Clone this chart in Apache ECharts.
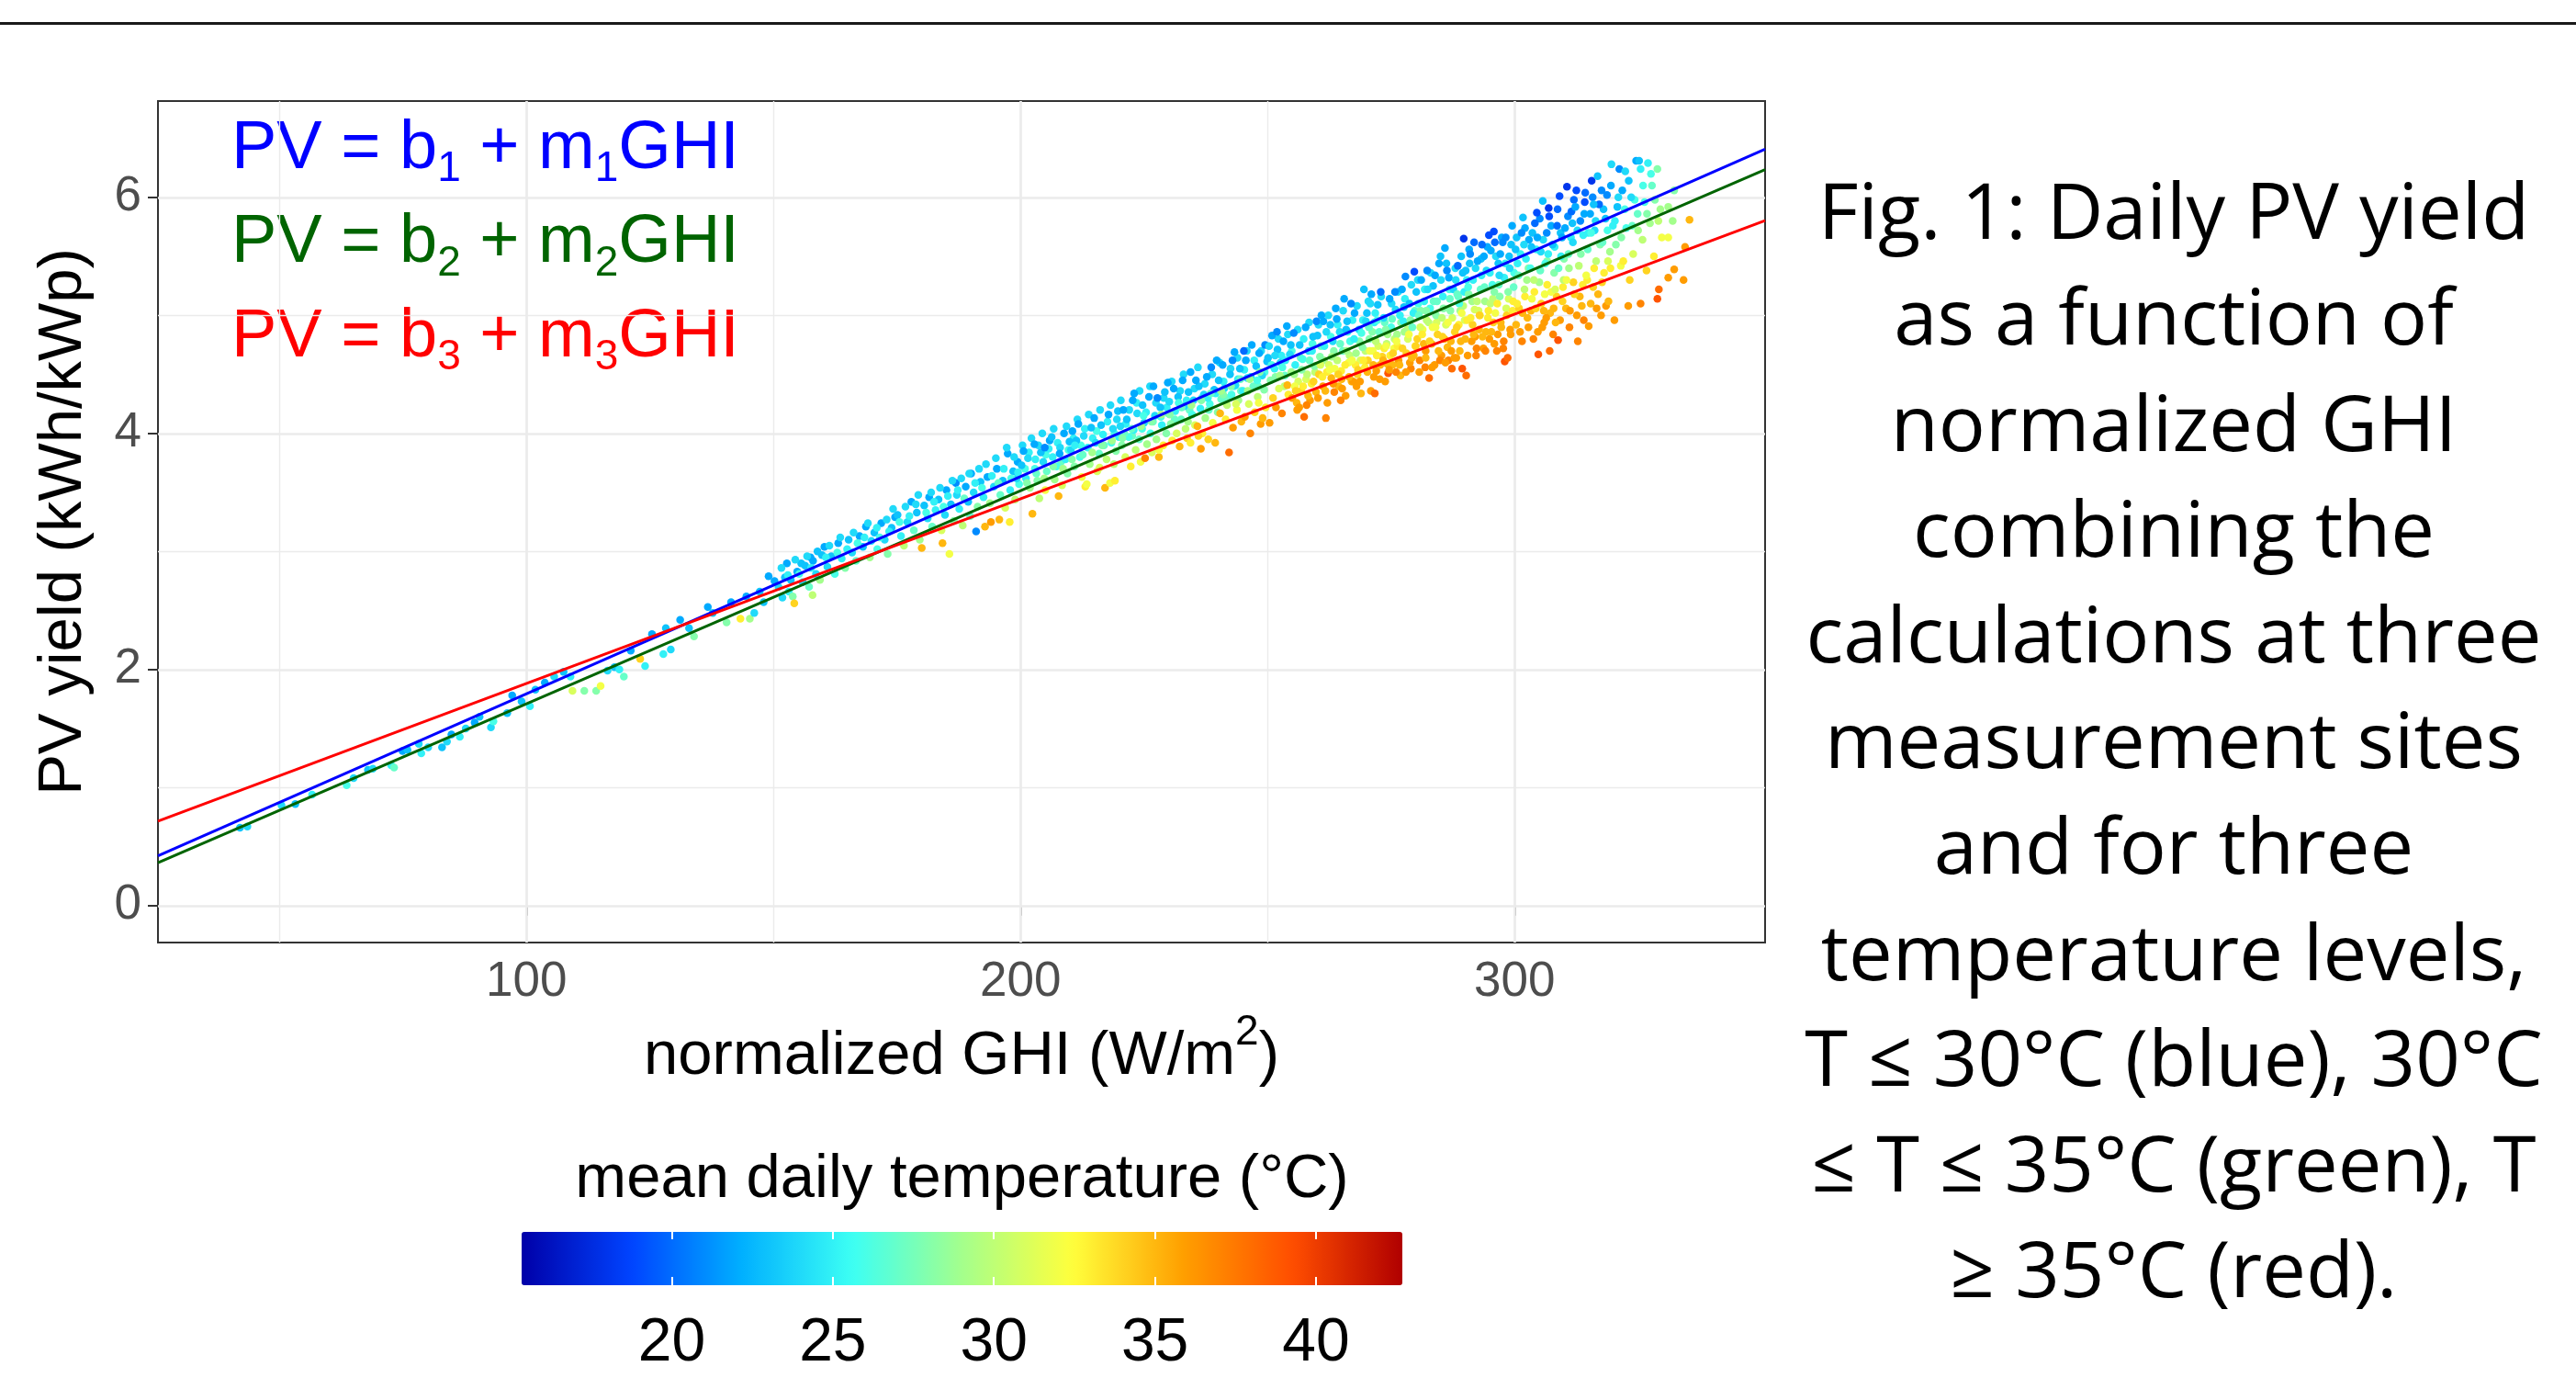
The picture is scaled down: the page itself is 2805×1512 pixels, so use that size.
<!DOCTYPE html>
<html>
<head>
<meta charset="utf-8">
<script src="https://cdn.jsdelivr.net/npm/echarts@6.0.0/dist/echarts.min.js"></script>
<style>
  html, body { margin: 0; padding: 0; background: #fff; }
  #chart { width: 2805px; height: 1512px; }
</style>
</head>
<body>
<div id="chart"></div>
<script>
// daily points: [normalized GHI, PV yield, mean daily temperature]
const ptsLowGhi = [
  [42.0,0.66,23],[43.5,0.67,24],[50.4,0.85,24],[53.2,0.86,23],[56.6,0.94,25],[63.6,1.02,26],[65.0,1.08,24],
  [67.9,1.15,23],[68.9,1.16,24],[72.6,1.19,25],[73.2,1.17,27],[74.9,1.31,22],[75.9,1.32,23],[78.2,1.37,24],
  [78.7,1.29,25],[80.1,1.34,24],[82.9,1.34,23],[83.9,1.39,24],[84.8,1.45,22],[86.5,1.43,25],[87.7,1.50,24],
  [89.5,1.55,22],[90.5,1.60,23],[92.8,1.51,24],[93.3,1.56,26],[96.1,1.63,23],[97.1,1.78,22],[99.0,1.73,23],
  [100.7,1.69,25],[101.8,1.83,23],[103.7,1.89,22],[105.6,1.94,24],[107.5,1.98,23],[108.9,1.94,25],[109.3,1.82,31],
  [111.7,1.82,28],[114.1,1.82,28],[115.0,1.86,32],[116.4,1.99,24],[117.8,2.02,23],[118.8,2.00,25],[119.7,1.94,27],
  [121.1,2.16,22],[123.0,2.09,34],[124.0,2.03,25],[125.4,2.30,22],[127.7,2.13,25],[128.2,2.35,23],[129.2,2.17,24],
  [131.1,2.42,22],[132.9,2.35,23],[133.9,2.28,28],[136.7,2.53,22],[137.7,2.48,23],[140.5,2.40,28],[141.4,2.57,22],
  [143.3,2.43,33],[144.5,2.62,22],[145.2,2.43,29],[146.1,2.48,24],[147.2,2.66,23],[148.0,2.57,23],[149.0,2.79,22]
];
const ptsMidGhi = [
  [150.2,2.75,22],[151.0,2.70,24],[151.8,2.61,24],[152.3,2.78,23],[152.7,2.90,22],[153.1,2.66,25],[153.5,2.76,23],
  [153.9,2.62,28],[154.2,2.56,34],[154.8,2.83,22],[155.6,2.90,23],[155.9,2.74,24],[156.4,2.88,23],[157.2,2.70,27],
  [157.5,2.95,22],[157.9,2.63,30],[158.0,2.92,22],[158.6,2.81,24],[159.4,2.76,29],[159.8,2.97,23],
  [160.3,3.04,22],[160.9,2.87,24],[161.7,2.96,23],[162.4,2.81,26],[163.1,3.07,22],[163.8,2.94,25],[164.5,2.86,28],
  [165.2,3.10,23],[165.9,2.99,24],[166.7,2.92,27],[167.4,3.13,22],[168.1,3.04,23],[168.7,3.21,22],[169.5,2.95,29],
  [169.8,3.09,24],
  [170.4,3.16,23],[171.0,3.02,26],[171.8,3.24,22],[172.5,3.10,24],[173.1,2.98,28],[173.9,3.20,23],[174.6,3.29,22],
  [175.1,3.31,23],[175.8,3.13,25],[176.4,3.05,30],[177.1,3.25,24],[177.9,3.42,22],[178.4,3.18,27],[179.0,3.33,23],
  [179.6,3.10,29],[180.0,3.03,35],
  [180.5,3.39,23],[181.2,3.28,24],[181.5,3.46,22],[182.1,3.21,27],[182.8,3.35,25],[183.4,3.44,23],[184.0,3.18,31],
  [184.2,3.07,35],[184.7,3.31,24],[185.0,3.52,22],[185.6,2.98,32],[185.9,3.40,23],[186.5,3.26,28],[187.1,3.48,24],
  [187.6,3.36,25],[188.3,3.22,30],[188.9,3.55,22],[189.4,3.42,23],[189.8,3.30,27],[186.9,3.58,21],
  [190.0,3.66,22],[190.5,3.50,24],[191.0,3.17,21],[191.3,3.38,28],[191.9,3.59,23],[192.5,3.46,25],[192.8,3.21,35],
  [193.3,3.63,22],[193.8,3.41,29],[194.0,3.25,36],[194.6,3.55,24],[195.2,3.70,22],[195.7,3.27,35],[195.9,3.48,27],
  [196.4,3.60,23],[196.9,3.37,31],[197.4,3.83,22],[197.8,3.25,33],[197.9,3.52,25],[198.5,3.68,23],[198.9,3.44,30],
  [199.4,3.76,22],[199.7,3.57,26],[199.2,3.62,24]
];
const ptsGhi200to250 = [
  [200.2,3.73,23],[200.6,3.85,22],[201.1,3.62,25],[201.5,3.79,24],[201.9,3.54,29],[202.4,3.32,35],[202.8,3.91,22],
  [202.9,3.70,26],[203.4,3.60,28],[203.8,3.45,30],[204.1,3.84,23],[204.6,3.76,24],[205.0,3.52,32],[205.3,3.68,27],
  [205.9,3.94,22],[206.3,3.97,23],[206.5,3.80,25],[206.9,3.61,29],[207.3,3.72,26],[207.7,3.47,35],[208.0,3.88,24],
  [208.4,3.56,31],[208.8,4.00,22],[209.1,3.78,25],[209.5,3.66,28],[209.9,3.93,23],[204.9,3.88,21],[207.9,3.83,22],
  [210.2,3.86,24],[210.5,4.02,22],[210.9,3.72,28],[211.3,3.94,23],[211.7,4.08,22],[212.0,3.80,26],[212.4,3.63,32],
  [212.8,3.98,24],[213.1,3.55,33],[213.4,3.57,32],[213.6,3.88,25],[214.0,3.74,29],[214.3,4.05,23],[214.9,4.13,22],
  [215.2,3.92,24],[215.5,3.68,31],[215.9,3.83,27],[216.3,4.07,23],[216.7,3.99,25],[217.1,3.54,35],[217.4,3.78,30],
  [217.8,4.16,22],[218.1,3.58,32],[218.4,3.92,26],[218.7,4.04,24],[219.1,3.60,33],[219.3,3.85,28],[219.7,4.19,23],
  [219.9,3.97,25],[211.0,3.90,25],[216.0,3.71,31],[218.9,3.74,30],
  [220.2,4.06,24],[220.5,3.90,28],[220.8,4.20,22],[221.2,3.80,31],[221.5,4.12,23],[221.9,3.97,26],[222.3,3.72,33],
  [222.7,4.28,22],[222.9,4.03,25],[223.3,3.86,30],[223.6,4.17,24],[224.0,3.95,27],[224.3,3.76,32],[224.7,4.24,23],
  [225.0,4.09,24],[225.2,3.79,37],[225.6,3.91,29],[226.0,4.31,22],[226.3,4.00,26],[226.6,3.84,31],[226.9,4.40,22],
  [227.2,4.15,24],[227.5,3.95,29],[228.0,3.80,35],[228.0,3.86,32],[228.3,4.22,23],[228.6,4.07,25],[228.9,3.90,33],
  [229.2,4.35,23],[229.5,4.00,28],[229.8,4.43,22],[229.9,4.17,25],[221.0,4.00,27],[224.9,4.15,26],[227.7,4.30,21],
  [223.0,4.34,22],
  [230.1,4.27,24],[230.4,4.08,28],[230.7,3.94,33],[231.0,4.38,22],[231.3,4.19,25],[231.6,4.00,31],[231.9,4.31,23],
  [232.2,3.89,35],[232.5,4.12,27],[232.8,4.45,22],[233.1,4.23,24],[233.4,4.04,30],[233.7,3.96,34],[234.0,4.35,23],
  [234.4,4.52,22],[234.4,3.92,33],[234.7,4.16,26],[235.0,4.28,24],[235.3,4.07,31],[235.8,4.06,35],[236.1,4.40,23],
  [236.4,4.21,25],[236.5,3.87,36],[236.8,4.00,33],[237.1,4.33,24],[237.4,4.13,29],[237.7,4.48,22],[238.0,3.95,34],
  [238.3,4.25,26],[238.6,4.56,21],[238.9,4.09,32],[239.2,4.37,23],[239.4,3.92,35],[239.7,4.62,22],[239.9,4.18,28],
  [232.0,4.26,26],[235.5,4.45,22],[237.9,4.30,25],[233.9,4.10,29],[236.0,3.98,34],
  [240.1,4.45,23],[240.4,4.17,35],[240.6,4.29,27],[240.9,4.58,22],[241.2,4.38,24],[241.5,4.12,33],[241.8,4.24,30],
  [242.2,3.84,38],[242.4,4.50,23],[242.7,4.33,26],[243.0,4.05,36],[243.3,4.69,22],[243.5,4.41,24],[243.8,4.20,32],
  [244.1,4.28,29],[244.4,4.55,23],[244.7,4.10,35],[245.0,4.36,25],[245.4,4.14,36],[245.6,4.62,22],[245.9,4.47,24],
  [246.2,4.25,31],[246.5,4.00,37],[246.8,4.75,22],[247.1,4.40,27],[247.4,4.18,34],[247.7,4.57,23],[248.0,4.31,30],
  [248.3,4.68,22],[248.6,4.08,36],[248.9,4.49,24],[249.0,4.13,35],[249.3,4.37,28],[249.6,4.22,33],[249.9,4.61,23],
  [241.0,4.33,28],[242.9,4.62,21],[244.0,4.46,25],[246.0,4.36,29],[247.9,4.45,26],[249.5,4.75,21],[245.2,4.70,20],
  [243.6,4.25,31],[248.2,4.26,32]
];
const ptsGhi250to300 = [
  [250.1,4.64,23],[250.4,4.09,36],[250.6,4.45,28],[250.9,4.83,22],[251.1,4.30,34],[251.4,4.55,25],[251.7,4.22,36],
  [252.0,4.71,23],[252.3,4.38,31],[252.6,4.60,24],[252.9,4.17,37],[253.2,4.78,22],[253.5,4.49,27],[253.9,4.91,22],
  [254.0,4.41,35],[254.2,4.33,33],[254.5,4.67,24],[254.8,4.52,29],[255.0,4.30,36],[255.3,4.85,21],[255.6,4.58,25],
  [255.9,4.26,35],[256.2,4.44,31],[256.5,4.75,23],[256.8,4.36,34],[257.1,4.63,26],[257.4,4.14,38],[257.7,4.90,22],
  [258.0,4.50,30],[258.3,4.70,24],[258.6,4.28,36],[258.9,4.42,33],[259.2,4.82,23],[259.5,4.57,28],[259.8,4.35,35],
  [259.9,4.95,21],[251.5,4.66,24],[252.5,4.49,29],[253.6,4.62,25],[255.5,4.40,32],[256.9,4.54,28],[258.5,4.62,27],
  [251.9,4.86,21],[254.7,4.75,23],[257.9,4.24,37],[259.0,4.70,25],[256.0,4.20,36],[253.0,4.56,26],
  [260.1,4.83,23],[260.4,4.50,34],[260.6,4.65,28],[260.9,5.00,22],[261.2,4.40,36],[261.5,4.74,25],[261.8,4.13,37],
  [262.1,4.26,36],[262.4,4.58,31],[262.7,4.92,23],[262.9,4.47,35],[263.2,4.78,24],[263.5,4.35,37],[263.8,5.06,22],
  [264.1,4.62,30],[264.4,4.40,35],[264.6,4.86,24],[264.9,4.53,33],[265.2,4.70,27],[265.5,5.14,22],[265.8,4.32,36],
  [266.1,4.95,23],[266.4,4.60,32],[266.7,4.78,26],[267.0,4.44,35],[267.3,4.44,36],[267.6,5.02,22],[267.9,4.68,29],
  [268.2,4.50,34],[268.5,4.88,24],[268.9,4.34,35],[269.2,4.73,28],[269.5,5.22,23],[269.7,4.56,33],[269.9,4.95,24],
  [260.7,4.58,31],[261.9,4.86,24],[263.0,4.65,29],[264.0,4.97,22],[265.0,4.46,35],[266.0,4.70,29],[267.5,4.80,25],
  [268.8,4.62,31],[262.0,4.52,33],[264.8,4.28,37],[266.9,5.10,21],[268.0,4.40,36],[269.0,4.85,26],[261.3,4.95,22],
  [263.6,4.55,32],[265.9,4.88,23],[267.8,4.58,33],
  [270.1,5.02,23],[270.3,4.62,34],[270.6,4.80,28],[270.9,4.36,36],[271.0,5.18,22],[271.3,4.70,32],[271.6,4.94,25],
  [271.7,4.34,38],[272.0,4.53,36],[272.3,5.09,23],[272.6,4.86,27],[272.9,5.20,20],[273.2,4.65,34],[273.5,4.98,24],
  [273.8,4.44,36],[274.1,4.76,30],[274.4,4.51,39],[274.7,5.14,22],[275.0,4.90,26],[275.3,4.58,35],[275.6,4.72,32],
  [275.9,5.05,24],[276.2,4.84,29],[276.5,4.62,36],[276.9,4.49,35],[277.2,5.22,22],[277.5,4.95,25],[277.9,5.33,21],
  [278.1,4.68,34],[278.4,4.80,31],[278.7,5.10,23],[279.0,4.55,37],[279.3,4.90,27],[279.7,5.37,19],[279.9,4.74,33],
  [270.5,4.90,27],[271.9,4.78,30],[272.8,4.58,35],[273.9,4.88,28],[274.8,4.66,33],[275.8,5.20,21],[276.8,5.00,25],
  [277.7,4.86,29],[278.8,4.60,36],[279.5,5.02,25],[270.8,5.10,24],[272.2,4.96,26],[273.6,4.72,33],[275.2,4.97,27],
  [276.3,4.74,33],[277.6,5.07,23],[278.9,4.96,28],[271.5,4.48,36],[274.2,4.59,35],[276.0,4.52,37],[279.6,4.66,35],
  [280.1,5.20,23],[280.3,4.80,34],[280.6,5.00,27],[280.8,4.62,37],[281.1,5.30,22],[281.4,4.88,32],[281.7,5.12,25],
  [282.0,4.70,36],[282.3,5.38,21],[282.6,4.94,30],[282.7,4.47,38],[282.9,5.06,26],[283.2,4.76,35],[283.5,5.25,23],
  [283.8,4.58,36],[284.1,5.00,28],[284.4,4.84,34],[284.7,5.44,22],[285.0,5.50,23],[285.2,4.66,36],[285.5,5.16,25],
  [285.9,5.57,22],[286.1,4.92,31],[286.4,4.73,35],[286.7,5.32,22],[287.0,5.04,28],[287.3,4.55,38],[287.6,5.22,24],
  [287.9,4.86,34],[288.2,4.64,36],[288.5,5.42,20],[288.8,5.10,26],[289.1,4.78,35],[289.4,4.55,39],[289.7,5.65,18],
  [289.9,4.96,31],[280.5,5.10,26],[281.6,4.76,35],[282.4,5.22,24],[283.4,4.90,32],[284.3,5.12,27],[285.3,4.98,30],
  [286.3,5.38,21],[287.2,4.70,36],[288.1,5.30,24],[289.0,5.04,29],[280.9,4.90,31],[282.1,5.04,28],[283.9,5.34,22],
  [285.8,4.80,35],[286.9,5.14,27],[288.7,4.92,33],[289.5,5.36,23],[281.9,4.56,37],[284.9,4.62,37],[286.6,4.62,37],
  [288.4,5.18,27],[289.8,5.20,25],
  [290.1,5.38,23],[290.2,4.49,38],[290.4,4.96,33],[290.7,5.18,28],[291.0,5.52,21],[291.3,4.78,36],[291.6,5.30,25],
  [291.9,5.05,31],[292.2,4.66,37],[292.5,5.46,22],[292.8,4.88,35],[293.1,5.22,27],[293.4,5.60,20],[293.7,4.72,36],
  [294.0,5.12,29],[294.3,5.38,24],[294.6,4.98,33],[294.9,4.80,36],[295.2,5.55,22],[295.5,5.26,26],[295.8,5.71,19],
  [296.1,5.02,32],[296.4,4.70,37],[296.7,5.44,23],[297.0,5.16,28],[297.3,4.90,35],[297.6,5.62,21],[297.9,5.32,25],
  [298.0,4.61,39],[298.3,5.06,31],[298.6,4.64,38],[298.9,5.50,23],[299.2,4.84,36],[299.5,5.76,22],[299.8,5.24,27],
  [290.6,5.24,26],[291.5,4.92,34],[292.4,5.12,30],[293.3,5.34,25],[294.2,4.86,35],[295.1,5.10,30],[296.0,5.62,20],
  [296.9,5.34,24],[297.8,4.78,37],[298.7,5.20,28],[299.6,5.04,33],[290.9,5.44,23],[292.0,4.82,36],[293.8,5.50,22],
  [295.7,4.94,34],[297.1,5.52,22],[299.0,5.40,24],[291.8,5.62,20],[294.8,5.68,19],[296.6,4.84,36],[298.2,5.66,21],
  [293.0,5.00,32],[295.9,5.20,28]
];
const ptsHighGhi = [
  [300.2,5.56,23],[300.5,5.10,33],[300.8,5.34,27],[301.1,4.86,36],[301.4,5.70,21],[301.7,5.83,23],[302.0,5.22,30],
  [302.3,5.48,25],[302.6,4.98,35],[302.9,5.64,22],[303.2,5.40,26],[303.5,5.14,32],[303.8,4.80,37],[304.1,5.78,20],
  [304.5,5.87,19],[304.8,4.67,39],[305.0,5.28,29],[305.3,5.54,24],[305.7,5.97,23],[305.9,5.04,35],[306.2,5.44,26],
  [306.5,5.70,21],[306.9,5.91,18],[307.1,4.70,38],[307.4,5.20,32],[307.7,5.60,23],[308.0,5.36,28],[308.3,4.94,35],
  [308.6,5.76,20],[308.8,4.79,39],[309.1,6.01,19],[309.4,5.50,25],[309.7,5.12,34],[309.9,5.30,30],[300.6,5.44,25],
  [301.6,5.02,35],[302.5,5.30,29],[303.4,5.58,23],[304.3,5.06,34],[305.2,5.38,27],[306.1,5.18,32],[307.0,5.84,19],
  [307.9,5.06,35],[308.9,5.40,27],[309.6,5.66,22],[301.9,5.60,24],[303.9,5.30,30],[305.6,4.90,36],[306.8,5.52,25],
  [308.2,5.22,31],[304.6,5.66,22],[306.4,4.98,36],
  [310.2,5.74,22],[310.5,5.30,32],[310.6,6.09,18],[310.9,5.52,27],[311.2,5.04,36],[311.5,5.88,20],[311.8,5.62,24],
  [312.1,5.18,34],[312.5,6.06,19],[312.8,4.78,37],[313.0,5.42,30],[313.3,5.80,21],[313.6,5.08,35],[313.9,5.68,25],
  [314.2,5.96,19],[314.5,5.34,32],[314.8,5.56,27],[315.0,4.91,36],[315.3,5.86,22],[315.6,6.14,18],[315.9,5.24,34],
  [316.2,5.72,24],[316.5,5.46,30],[316.8,6.18,23],[317.1,5.94,20],[317.5,5.00,36],[317.8,5.62,27],[318.1,5.36,33],
  [318.4,5.82,23],[318.7,6.02,21],[319.0,5.12,35],[319.3,5.54,29],[319.6,6.28,24],[319.9,5.76,25],[311.0,5.40,29],
  [312.3,5.92,22],[313.8,5.26,33],[315.5,5.70,26],[316.6,5.06,36],[317.6,6.06,21],[318.9,5.46,31],[311.7,5.78,23],
  [314.3,6.04,20],[316.0,5.94,23],
  [320.2,4.96,36],[320.5,5.60,28],[320.8,5.92,23],[321.2,6.24,21],[321.5,5.42,32],[321.8,6.06,22],[322.4,6.22,24],
  [322.6,5.74,26],[323.0,5.08,36],[323.3,5.30,34],[323.6,6.00,24],[324.0,5.52,31],[324.6,6.31,22],[324.9,5.86,27],
  [325.2,6.31,23],[325.5,5.10,37],[325.5,6.24,25],[325.9,5.64,30],[326.3,5.96,26],[326.7,5.38,34],[327.0,6.29,25],
  [327.4,5.78,29],[327.8,6.10,27],[328.2,5.50,33],[328.9,5.14,39],[328.9,6.24,28],[329.2,5.22,38],[329.5,5.90,29],
  [329.8,5.66,32],[322.0,5.46,33],
  [331.1,5.92,29],[331.1,5.66,32],[331.1,5.32,36],[332.0,5.80,29],[332.3,6.06,28],[332.3,5.39,36],[334.2,5.30,36],
  [334.5,5.58,36],[335.4,5.81,35]
];
// extra points filling the dense parts of the cloud
const ptsDenseCool = [
  [151.6,2.86,24],[152.9,2.80,25],[154.4,2.93,24],[155.2,2.81,26],[156.8,2.96,24],[157.6,2.86,25],[158.9,3.00,23],
  [160.6,2.95,25],[161.3,3.05,24],[162.9,2.99,26],[163.5,3.12,24],[164.9,3.02,25],[166.2,3.16,24],[167.0,3.07,26],
  [168.4,3.12,25],[169.1,3.24,24],[170.9,3.20,25],[171.5,3.12,26],[172.9,3.27,24],[173.4,3.17,25],[174.2,3.36,24],
  [175.5,3.25,26],[176.7,3.38,24],[177.5,3.30,25],[178.8,3.40,24],[179.3,3.48,24],[180.9,3.33,26],[181.9,3.50,24],
  [182.5,3.42,25],[183.7,3.54,24],[184.4,3.38,26],[185.3,3.47,25],[186.2,3.60,24],[187.3,3.52,25],[188.0,3.62,24],
  [188.6,3.45,27],[189.6,3.66,24],[190.8,3.58,25],[191.6,3.70,24],[192.2,3.54,26],[193.0,3.74,24],[194.2,3.64,25],
  [195.0,3.79,24],[195.5,3.58,27],[196.6,3.70,25],[197.2,3.88,24],[198.1,3.62,26],[198.7,3.80,24],[199.5,3.67,25],
  [200.4,3.90,24],[200.9,3.70,26],[201.7,3.84,25],[202.2,3.96,24],[203.0,3.78,25],[203.6,3.90,24],[204.4,4.00,24],
  [205.1,3.82,26],[205.7,3.87,25],[206.7,4.04,24],[207.5,3.92,25],[208.2,3.76,27],[209.3,4.06,24],[209.7,3.86,26],
  [210.7,3.96,25],[211.5,4.12,24],[212.2,3.90,26],[213.0,4.04,25],[213.8,4.16,24],[214.6,3.96,25],[215.4,4.02,26],
  [216.1,4.20,24],[216.9,3.90,27],[217.6,4.10,25],[218.2,4.24,24],[219.0,4.00,26],[219.5,4.12,24],[220.3,4.28,24],
  [221.3,4.08,25],[222.0,4.20,24],[222.6,3.98,27],[223.5,4.26,25],[224.1,4.36,24],[224.6,4.04,26],[225.4,4.18,25],
  [226.2,4.40,24],[226.8,4.10,27],[227.4,4.26,24],[228.4,4.14,26],[229.0,4.30,24],[229.6,4.22,25],[230.6,4.44,24],
  [231.2,4.12,27],[232.3,4.36,24],[233.0,4.50,24],[233.6,4.28,25],[234.2,4.20,27],[235.2,4.38,24],[235.9,4.56,24],
  [236.7,4.30,26],[237.3,4.42,24],[238.1,4.20,27],[238.8,4.50,24],[239.5,4.34,25],[240.3,4.60,24],[241.1,4.44,25],
  [241.7,4.30,27],[242.5,4.55,24],[243.2,4.40,26],[243.9,4.64,24],[244.6,4.36,27],[245.3,4.54,25],[245.8,4.70,24],
  [246.6,4.48,24],[247.3,4.62,25],[248.1,4.40,27],[248.7,4.70,24],[249.4,4.52,26]
];
const ptsDenseMild = [
  [250.3,4.74,24],[250.8,4.58,26],[251.6,4.48,28],[252.2,4.80,24],[252.8,4.66,25],[253.4,4.40,30],[254.1,4.84,24],
  [254.9,4.70,26],[255.4,4.50,29],[256.1,4.88,24],[256.7,4.64,27],[257.3,4.80,25],[257.8,4.46,31],[258.4,4.94,24],
  [259.1,4.76,26],[259.6,4.52,30],[260.3,4.92,24],[260.8,4.74,27],[261.4,4.62,29],[262.3,5.00,24],[262.8,4.82,26],
  [263.4,4.70,28],[264.2,4.92,25],[264.7,4.76,27],[265.3,5.04,24],[266.2,4.86,26],[266.6,4.66,30],[267.2,4.96,25],
  [268.1,5.08,24],[268.6,4.78,28],[269.3,4.96,25],[269.8,4.70,30],[270.4,5.12,24],[271.2,4.86,28],[271.8,5.02,25],
  [272.4,4.74,31],[273.0,5.16,24],[273.7,4.94,27],[274.3,4.84,29],[275.1,5.10,24],[275.7,4.80,30],[276.4,5.20,24],
  [277.0,4.94,28],[277.8,5.14,25],[278.3,4.88,30],[279.1,5.26,24],[279.8,5.04,27],[280.4,5.30,24],[281.0,5.04,28],
  [281.8,5.22,25],[282.2,4.96,30],[283.0,5.36,24],[283.6,5.12,27],[284.2,4.94,31],[285.1,5.30,24],[285.6,5.06,28],
  [286.2,5.44,23],[286.8,5.22,26],[287.4,4.98,31],[288.0,5.40,24],[288.6,5.16,27],[289.2,5.50,23],[289.6,5.08,30],
  [290.3,5.30,25],[290.8,5.56,22],[291.4,5.12,29],[292.1,5.40,24],[292.7,5.04,31],[293.2,5.48,23],[293.9,5.24,27],
  [294.5,5.58,22],[295.0,5.36,25],[295.6,5.14,30],[296.2,5.50,24],[296.8,5.26,27],[297.4,5.66,22],[298.1,5.44,25],
  [298.8,5.14,31],[299.3,5.60,23],[299.9,5.36,26],
  [201.3,3.58,28],[203.2,3.66,27],[204.8,3.62,29],[206.6,3.72,28],[208.6,3.70,29],[210.4,3.78,28],[212.6,3.82,27],
  [214.5,3.84,29],[216.5,3.90,28],[218.5,3.94,29],[220.6,3.96,28],[222.5,4.04,27],[224.4,4.06,29],[226.5,4.10,28],
  [228.5,4.16,29],[230.2,4.16,28],[232.6,4.22,27],[234.6,4.24,29],[236.6,4.28,28],[238.5,4.34,27],[240.6,4.36,29],
  [242.6,4.40,28],[244.5,4.46,27],[246.4,4.46,29],[248.4,4.52,28]
];
const ptsDenseTop = [
  [300.4,5.66,23],[301.2,5.52,25],[302.1,5.74,22],[302.8,5.40,28],[303.6,5.70,23],[304.4,5.56,25],[305.1,5.82,21],
  [305.8,5.64,24],[306.6,5.46,28],[307.4,5.76,22],[308.1,5.58,25],[308.7,5.90,20],[309.3,5.70,23],[310.0,5.48,28],
  [310.8,5.84,21],[311.4,5.66,25],[312.0,5.98,20],[312.7,5.72,24],[313.4,5.52,28],[314.1,5.86,22],[314.9,5.70,25],
  [315.8,6.00,21],[316.4,5.80,24],[317.3,5.60,28],[318.0,5.90,23],[318.8,5.72,26],[319.5,6.10,22],[320.3,5.80,25],
  [321.0,6.00,24],[321.6,5.66,28],[322.3,5.90,26],[323.1,6.14,23],[323.8,5.76,27],[324.3,5.98,26],[325.0,5.72,29],
  [326.0,6.10,26],[326.8,5.86,28],[327.6,6.20,26],[328.4,5.98,28],[329.1,5.80,30]
];
const ptsDenseWarm = [
  [255.7,4.36,34],[256.4,4.22,36],[257.2,4.40,33],[258.2,4.32,35],[259.3,4.44,34],[260.2,4.30,36],[261.1,4.48,33],
  [261.7,4.36,35],[262.6,4.54,32],[263.3,4.42,36],[264.3,4.50,34],[265.1,4.38,36],[265.7,4.58,33],[266.5,4.48,35],
  [267.1,4.62,32],[268.3,4.54,34],[268.7,4.44,36],[269.4,4.62,33],[270.2,4.52,35],[270.7,4.70,32],[271.4,4.58,35],
  [272.1,4.66,33],[272.7,4.46,36],[273.4,4.62,35],[274.0,4.74,32],[274.6,4.54,36],[275.4,4.68,34],[276.1,4.78,32],
  [276.7,4.58,35],[277.3,4.72,34],[278.0,4.52,36],[278.6,4.84,32],[279.2,4.64,35],[280.0,4.74,34],[280.7,4.52,36],
  [281.3,4.84,33],[282.0,4.64,35],[282.8,4.78,34],[283.3,4.56,36],[284.0,4.90,32],[284.6,4.70,35],[285.4,4.82,34],
  [286.0,4.60,36],[286.5,4.94,32],[287.1,4.78,35],[287.8,4.64,36],[288.3,4.90,34],[288.9,4.70,35],[289.3,5.02,32],
  [290.0,4.80,35],[290.5,4.66,36],[291.1,4.98,33],[291.7,4.84,35],[292.3,4.72,37],[292.9,5.00,34],[293.5,4.82,35],
  [294.1,4.70,37],[294.7,5.04,33],[295.3,4.86,35],[295.9,4.76,36],[296.5,5.10,33],[297.2,4.94,35],[297.7,4.72,37],
  [298.4,5.00,34],[299.1,4.88,36],[299.7,5.12,33],[300.3,4.92,35],[300.9,5.06,34],[301.5,4.78,37],[302.1,5.16,33],
  [302.8,4.90,36],[303.3,5.04,35],[304.0,5.20,33],[304.7,4.86,36],[305.4,5.10,34],[306.0,4.94,36],[306.6,5.26,33],
  [307.2,5.02,35],[307.8,4.84,37],[308.5,5.16,34],[309.2,4.96,36],[309.8,5.24,33],[310.4,5.06,35],[311.1,4.90,37],
  [311.9,5.28,34],[312.6,5.00,36],[313.2,5.16,35],[314.0,4.96,37],[314.7,5.30,33],[315.4,5.10,35],[316.1,5.40,33],
  [316.9,5.18,35],[317.7,5.28,34],[318.5,5.08,36],[319.4,5.40,33]
];

// fitted lines, end points read at the panel edges
const fitGhi = [25.4, 350.7];
const fitPv1 = [0.421, 6.409];
const fitPv2 = [0.364, 6.235];
const fitPv3 = [0.716, 5.804];
const fitColors = ['#0000FF', '#006400', '#FF0000'];
const fitSubs = ['1', '2', '3'];

const xRange = [25.4, 350.7];
const yRange = [-0.313, 6.816];
const xTicks = [100, 200, 300];
const xMinor = [50, 150, 250];
const yTicks = [0, 2, 4, 6];
const yMinor = [1, 3, 5];

const tempRange = [15.34, 42.68];
const tempTicks = [20, 25, 30, 35, 40];
const jetColors = ['#0000A8', '#0044FF', '#00B0FF', '#3CFFF4', '#A4FF8C', '#FFFF3C', '#FFA000', '#FF4E00', '#B00000'];

const captionLines = [
  'Fig. 1: Daily PV yield',
  'as a function of',
  'normalized GHI',
  'combining the',
  'calculations at three',
  'measurement sites',
  'and for three',
  'temperature levels,',
  'T ≤ 30°C (blue), 30°C',
  '≤ T ≤ 35°C (green), T',
  '≥ 35°C (red).'
];

const FONT = 'Liberation Sans';
const chart = echarts.init(document.getElementById('chart'));

const allPts = [].concat(
  ptsLowGhi, ptsMidGhi, ptsDenseCool, ptsGhi200to250, ptsDenseMild,
  ptsGhi250to300, ptsDenseWarm, ptsDenseTop, ptsHighGhi
);

const gridMarks = [].concat(
  xTicks.map(v => ({ xAxis: v, lineStyle: { width: 2.7 } })),
  xMinor.map(v => ({ xAxis: v, lineStyle: { width: 1.4 } })),
  yTicks.map(v => ({ yAxis: v, lineStyle: { width: 2.7 } })),
  yMinor.map(v => ({ yAxis: v, lineStyle: { width: 1.4 } }))
);

const fitSeries = [fitPv1, fitPv2, fitPv3].map((pv, i) => ({
  type: 'line',
  xAxisIndex: 0,
  yAxisIndex: 0,
  data: fitGhi.map((g, k) => [g, pv[k]]),
  symbol: 'none',
  silent: true,
  z: 4,
  lineStyle: { color: fitColors[i], width: 3 }
}));

const eqTexts = fitColors.map((c, i) => ({
  type: 'text',
  x: 252,
  y: 162.5 + i * 102.5,
  silent: true,
  style: {
    text: `{m|PV = b}{s|${fitSubs[i]}}{m| + m}{s|${fitSubs[i]}}{m|GHI}`,
    verticalAlign: 'middle',
    rich: {
      m: { fontSize: 74, fontFamily: FONT, fill: c, lineHeight: 90, verticalAlign: 'middle' },
      s: { fontSize: 46, fontFamily: FONT, fill: c, lineHeight: 46, verticalAlign: 'bottom' }
    }
  }
}));

const option = {
  animation: false,
  backgroundColor: '#ffffff',
  textStyle: { fontFamily: FONT },
  grid: [
    { left: 172, top: 110, width: 1750, height: 916, show: true, borderColor: '#333333', borderWidth: 2, backgroundColor: 'transparent' },
    { left: 568, top: 1341, width: 959, height: 58, show: false }
  ],
  xAxis: [
    {
      type: 'value', gridIndex: 0, min: xRange[0], max: xRange[1],
      axisLine: { show: false },
      axisTick: { show: true, customValues: xTicks, length: 11, lineStyle: { color: '#333333', width: 2 } },
      axisLabel: { customValues: xTicks, fontSize: 53, lineHeight: 53, color: '#4D4D4D', margin: 17, fontFamily: FONT },
      splitLine: { show: false },
      name: '{t|normalized GHI (W/m}{sup|2}{t|)}',
      nameLocation: 'middle',
      nameGap: 73,
      nameTextStyle: {
        rich: {
          t: { fontSize: 67, fontFamily: FONT, color: '#000', lineHeight: 100, verticalAlign: 'middle' },
          sup: { fontSize: 46, fontFamily: FONT, color: '#000', lineHeight: 46, verticalAlign: 'top' }
        }
      }
    },
    {
      type: 'value', gridIndex: 1, min: tempRange[0], max: tempRange[1], position: 'bottom', z: 10,
      axisLine: { show: false },
      axisTick: { show: true, inside: true, customValues: tempTicks, length: 9, lineStyle: { color: '#ffffff', width: 2 } },
      axisLabel: { customValues: tempTicks, fontSize: 66, lineHeight: 66, color: '#000', margin: 31, fontFamily: FONT },
      splitLine: { show: false }
    },
    {
      type: 'value', gridIndex: 1, min: tempRange[0], max: tempRange[1], position: 'top', z: 10,
      axisLine: { show: false },
      axisTick: { show: true, inside: true, customValues: tempTicks, length: 8, lineStyle: { color: '#ffffff', width: 2 } },
      axisLabel: { show: false },
      splitLine: { show: false },
      name: 'mean daily temperature (°C)',
      nameLocation: 'middle',
      nameGap: 23,
      nameTextStyle: { fontSize: 67, lineHeight: 67, color: '#000', fontFamily: FONT }
    }
  ],
  yAxis: [
    {
      type: 'value', gridIndex: 0, min: yRange[0], max: yRange[1],
      axisLine: { show: false },
      axisTick: { show: true, customValues: yTicks, length: 11, lineStyle: { color: '#333333', width: 2 } },
      axisLabel: { customValues: yTicks, fontSize: 53, lineHeight: 53, color: '#4D4D4D', margin: 18, fontFamily: FONT },
      splitLine: { show: false },
      name: 'PV yield (kWh/kWp)',
      nameLocation: 'middle',
      nameGap: 69,
      nameTextStyle: { fontSize: 67, lineHeight: 67, color: '#000', fontFamily: FONT }
    },
    { type: 'value', gridIndex: 1, min: 0, max: 1, show: false }
  ],
  visualMap: {
    type: 'continuous',
    seriesIndex: 0,
    dimension: 2,
    min: tempRange[0],
    max: tempRange[1],
    orient: 'horizontal',
    left: 568,
    top: 1341,
    itemWidth: 58,
    itemHeight: 959,
    padding: 0,
    calculable: false,
    hoverLink: false,
    inRange: { color: jetColors }
  },
  series: [
    {
      type: 'scatter',
      xAxisIndex: 0,
      yAxisIndex: 0,
      data: allPts,
      symbolSize: 8.5,
      z: 3,
      itemStyle: { opacity: 1 }
    },
    ...fitSeries,
    {
      type: 'line',
      xAxisIndex: 0,
      yAxisIndex: 0,
      data: [],
      silent: true,
      z: 1,
      markLine: {
        silent: true,
        z: 1,
        symbol: ['none', 'none'],
        label: { show: false },
        lineStyle: { color: '#EBEBEB', type: 'solid' },
        data: gridMarks
      }
    }
  ],
  graphic: [
    { type: 'rect', silent: true, shape: { x: 0, y: 24, width: 2805, height: 3 }, style: { fill: '#1a1a1a' } },
    ...eqTexts,
    {
      type: 'text',
      x: 2367,
      y: 812,
      silent: true,
      style: {
        text: captionLines.join('\n'),
        fontFamily: 'Open Sans',
        fontSize: 85,
        lineHeight: 115.2,
        fill: '#000',
        align: 'center',
        verticalAlign: 'middle'
      }
    }
  ]
};

chart.setOption(option);
window.onresize = chart.resize;
</script>
</body>
</html>
